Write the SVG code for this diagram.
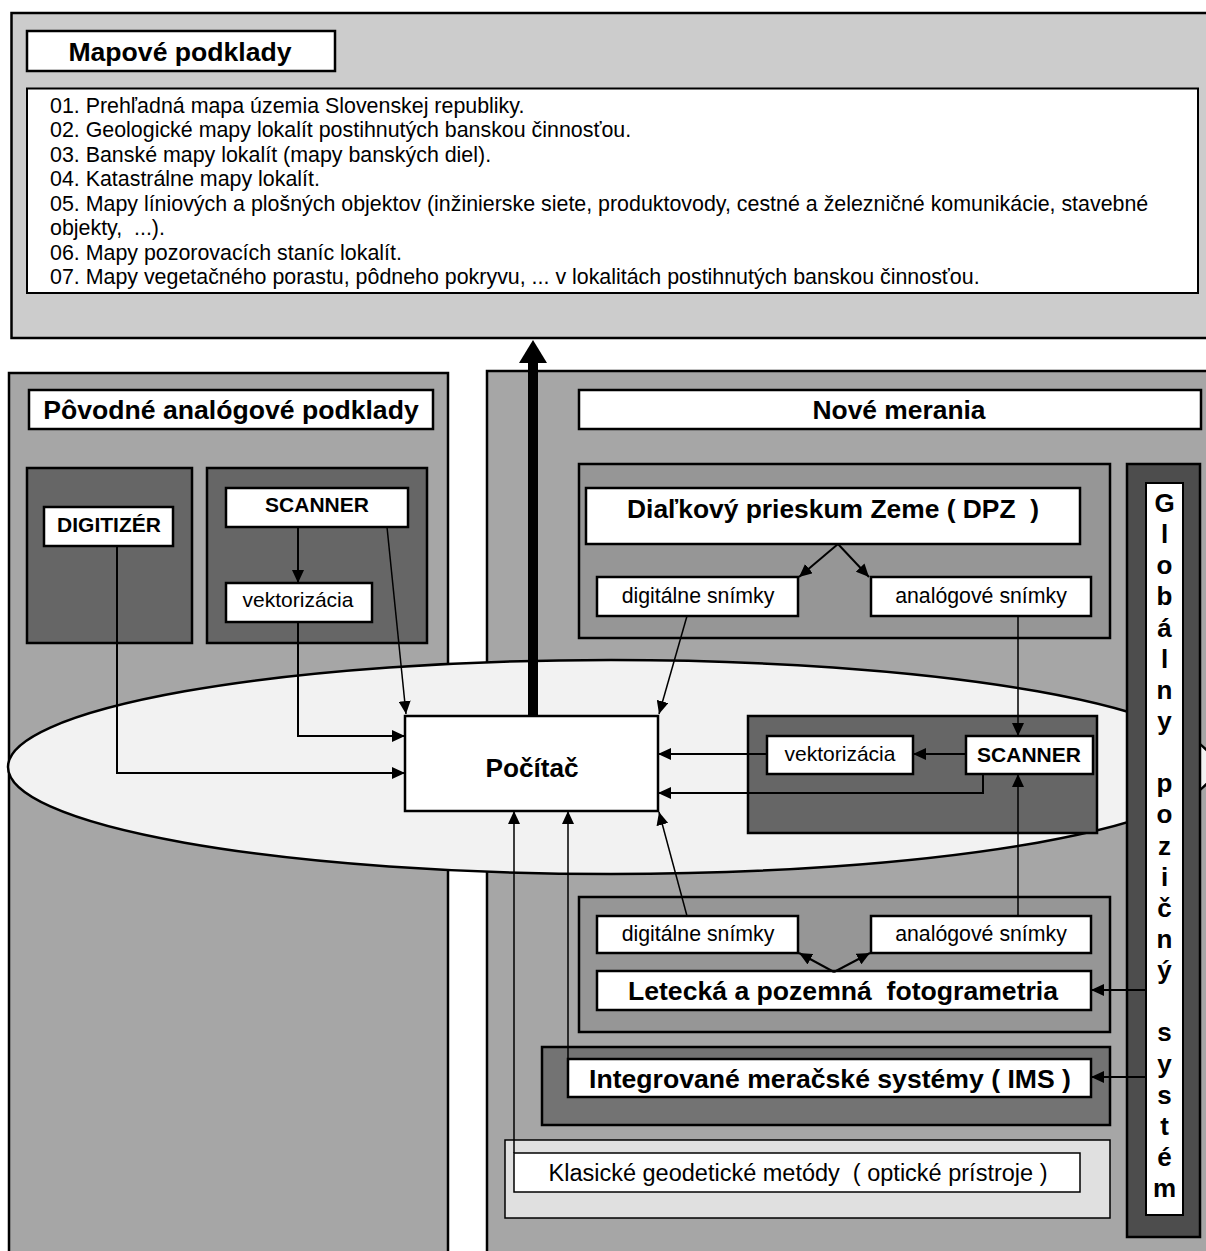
<svg xmlns="http://www.w3.org/2000/svg" width="1206" height="1251" viewBox="0 0 1206 1251">
<defs>
<style>
.t{font-family:"Liberation Sans",Arial,sans-serif;fill:#000}
.b{font-weight:bold}
.c{text-anchor:middle}
.box{fill:#fff;stroke:#000;stroke-width:2.5}
.thin{fill:#fff;stroke:#000;stroke-width:1.5}
.pan{stroke:#000;stroke-width:2.5}
.ln{fill:none;stroke:#000;stroke-width:2}
.ln1{fill:none;stroke:#000;stroke-width:1.5}
</style>
<marker id="ah" markerUnits="userSpaceOnUse" markerWidth="14" markerHeight="12" refX="13" refY="6" orient="auto"><path d="M0,0 L13,6 L0,12 z" fill="#000"/></marker>
<marker id="ahT" markerUnits="userSpaceOnUse" markerWidth="24" markerHeight="28" refX="0" refY="14" orient="auto"><path d="M0,0 L23,14 L0,28 z" fill="#000"/></marker>
</defs>
<rect width="1206" height="1251" fill="#fff"/>

<g id="mapove-podklady">
<rect class="pan" x="11.5" y="13" width="1205" height="325" fill="#ccc"/>
<rect class="box" x="27" y="31" width="308" height="40"/>
<text class="t b c" x="180" y="61" font-size="26.6">Mapové podklady</text>
<rect x="27" y="88.5" width="1171" height="204.5" fill="#fff" stroke="#000" stroke-width="2"/>
<g class="t" font-size="21.4">
<text x="50" y="112.5">01. Prehľadná mapa územia Slovenskej republiky.</text>
<text x="50" y="137">02. Geologické mapy lokalít postihnutých banskou činnosťou.</text>
<text x="50" y="161.5">03. Banské mapy lokalít (mapy banských diel).</text>
<text x="50" y="186">04. Katastrálne mapy lokalít.</text>
<text x="50" y="210.5">05. Mapy líniových a plošných objektov (inžinierske siete, produktovody, cestné a železničné komunikácie, stavebné</text>
<text x="50" y="235" xml:space="preserve">objekty,  ...).</text>
<text x="50" y="259.5">06. Mapy pozorovacích staníc lokalít.</text>
<text x="50" y="284">07. Mapy vegetačného porastu, pôdneho pokryvu, ... v lokalitách postihnutých banskou činnosťou.</text>
</g>
</g>

<g id="povodne-panel">
<rect class="pan" x="9" y="373" width="439" height="900" fill="#a6a6a6"/>
<rect class="box" x="29" y="390" width="404" height="39"/>
<text class="t b c" x="231" y="419" font-size="26.6">Pôvodné analógové podklady</text>
</g>

<g id="nove-merania-panel">
<rect class="pan" x="487" y="371" width="730" height="900" fill="#a6a6a6"/>
<rect class="box" x="579" y="390" width="622" height="39"/>
<text class="t b c" x="899" y="419" font-size="26.4">Nové merania</text>
</g>

<g id="digitizer">
<rect class="pan" x="27" y="468" width="165" height="175" fill="#666"/>
<rect class="box" x="44" y="507" width="129" height="39"/>
<text class="t b c" x="109" y="532" font-size="21">DIGITIZÉR</text>
</g>

<g id="scanner-left">
<rect class="pan" x="207" y="468" width="220" height="175" fill="#666"/>
<rect class="box" x="226" y="488" width="182" height="39"/>
<text class="t b c" x="317" y="512" font-size="21">SCANNER</text>
<rect class="box" x="226" y="583" width="146" height="39"/>
<text class="t c" x="298" y="607" font-size="21">vektorizácia</text>
</g>

<g id="dpz">
<rect class="pan" x="579" y="464" width="531" height="174" fill="#969696"/>
<rect class="box" x="586" y="488" width="494" height="56"/>
<text class="t b c" x="833" y="518" font-size="26.4" xml:space="preserve">Diaľkový prieskum Zeme ( DPZ  )</text>
<rect class="box" x="597" y="577" width="201" height="39"/>
<text class="t c" x="698" y="603" font-size="21.3">digitálne snímky</text>
<rect class="box" x="871" y="577" width="220" height="39"/>
<text class="t c" x="981" y="603" font-size="21.3">analógové snímky</text>
</g>

<g id="ellipse">
<ellipse cx="611" cy="767" rx="603" ry="107" fill="#f2f2f2" stroke="#000" stroke-width="2.5"/>
</g>

<g id="scanner-right">
<rect class="pan" x="748" y="716" width="349" height="117" fill="#666"/>
<rect class="box" x="767" y="736" width="146" height="38"/>
<text class="t c" x="840" y="761" font-size="21">vektorizácia</text>
<rect class="box" x="966" y="736" width="127" height="38"/>
<text class="t b c" x="1029" y="762" font-size="21">SCANNER</text>
</g>

<g id="fotogrametria">
<rect class="pan" x="579" y="897" width="531" height="135" fill="#969696"/>
<rect class="box" x="597" y="916" width="201" height="37"/>
<text class="t c" x="698" y="941" font-size="21.3">digitálne snímky</text>
<rect class="box" x="871" y="916" width="220" height="37"/>
<text class="t c" x="981" y="941" font-size="21.3">analógové snímky</text>
<rect class="box" x="597" y="971" width="494" height="39"/>
<text class="t b c" x="843" y="1000" font-size="26.6" xml:space="preserve">Letecká a pozemná  fotogrametria</text>
</g>

<g id="ims">
<rect class="pan" x="542" y="1047" width="568" height="78" fill="#737373"/>
<rect class="box" x="568" y="1059" width="523" height="38"/>
<text class="t b c" x="830" y="1088" font-size="26.6">Integrované meračské systémy ( IMS )</text>
</g>

<g id="klasicke">
<rect x="505" y="1140" width="605" height="78" fill="#e0e0e0" stroke="#000" stroke-width="1.5"/>
<rect class="thin" x="514" y="1153" width="566" height="39"/>
<text class="t c" x="798" y="1181" font-size="23.5" xml:space="preserve">Klasické geodetické metódy  ( optické prístroje )</text>
</g>

<g id="gps">
<rect class="pan" x="1127" y="464" width="73" height="773" fill="#4d4d4d"/>
<rect x="1146" y="483" width="37" height="732" fill="#fff" stroke="#000" stroke-width="2"/>
<text class="t b c" font-size="26">
<tspan x="1164.5" y="512">G</tspan><tspan x="1164.5" dy="31.14">l</tspan><tspan x="1164.5" dy="31.14">o</tspan><tspan x="1164.5" dy="31.14">b</tspan><tspan x="1164.5" dy="31.14">á</tspan><tspan x="1164.5" dy="31.14">l</tspan><tspan x="1164.5" dy="31.14">n</tspan><tspan x="1164.5" dy="31.14">y</tspan><tspan x="1164.5" dy="62.28">p</tspan><tspan x="1164.5" dy="31.14">o</tspan><tspan x="1164.5" dy="31.14">z</tspan><tspan x="1164.5" dy="31.14">i</tspan><tspan x="1164.5" dy="31.14">č</tspan><tspan x="1164.5" dy="31.14">n</tspan><tspan x="1164.5" dy="31.14">ý</tspan><tspan x="1164.5" dy="62.28">s</tspan><tspan x="1164.5" dy="31.14">y</tspan><tspan x="1164.5" dy="31.14">s</tspan><tspan x="1164.5" dy="31.14">t</tspan><tspan x="1164.5" dy="31.14">é</tspan><tspan x="1164.5" dy="31.14">m</tspan>
</text>
</g>

<g id="pocitac">
<rect class="box" x="405" y="716" width="253" height="95"/>
<text class="t b c" x="532" y="777" font-size="26.2">Počítač</text>
</g>

<g id="connectors">
<path class="ln" d="M117,546 V773 H405" marker-end="url(#ah)"/>
<path class="ln" d="M298,622 V736 H405" marker-end="url(#ah)"/>
<path class="ln" d="M298,527 V583" marker-end="url(#ah)"/>
<path class="ln1" d="M387,527 L406,714" marker-end="url(#ah)"/>
<path class="ln" d="M838,544 L799,577" marker-end="url(#ah)"/>
<path class="ln" d="M838,544 L869,577" marker-end="url(#ah)"/>
<path class="ln1" d="M687,616 L659,714" marker-end="url(#ah)"/>
<path class="ln1" d="M1018,616 V736" marker-end="url(#ah)"/>
<path class="ln" d="M966,754 H913" marker-end="url(#ah)"/>
<path class="ln" d="M767,754 H658" marker-end="url(#ah)"/>
<path class="ln" d="M983,774 V793 H658" marker-end="url(#ah)"/>
<path class="ln" d="M834,972 L799,953" marker-end="url(#ah)"/>
<path class="ln" d="M834,972 L870,953" marker-end="url(#ah)"/>
<path class="ln1" d="M687,916 L659,812" marker-end="url(#ah)"/>
<path class="ln1" d="M1018,916 V774" marker-end="url(#ah)"/>
<path class="ln1" d="M568,1059 V811" marker-end="url(#ah)"/>
<path class="ln1" d="M514,1153 V811" marker-end="url(#ah)"/>
<path class="ln" d="M1146,990 H1091" marker-end="url(#ah)"/>
<path class="ln" d="M1146,1077 H1091" marker-end="url(#ah)"/>
<path fill="none" stroke="#000" stroke-width="10" d="M533,716 V363" marker-end="url(#ahT)"/>
</g>
</svg>
